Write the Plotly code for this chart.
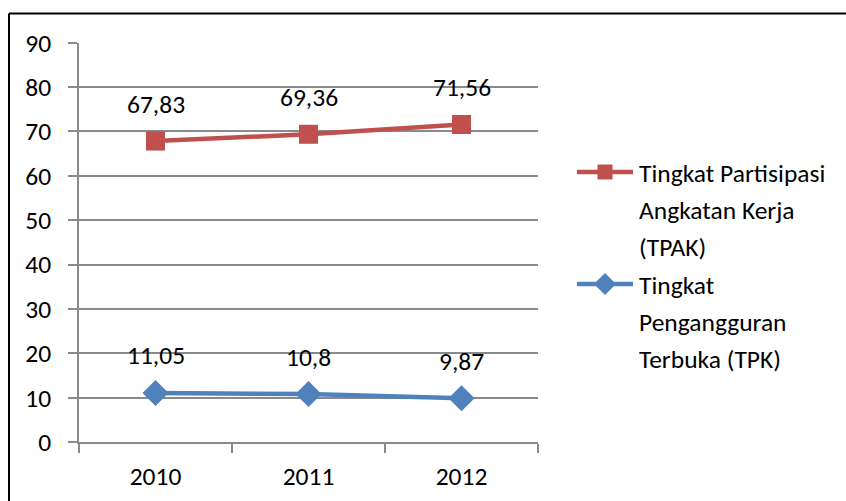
import plotly.graph_objects as go

# Data
years = ["2010", "2011", "2012"]
tpak = [67.83, 69.36, 71.56]   # Tingkat Partisipasi Angkatan Kerja
tpk = [11.05, 10.8, 9.87]      # Tingkat Pengangguran Terbuka
y_ticks = [0, 10, 20, 30, 40, 50, 60, 70, 80, 90]

RED = "#C0504D"
BLUE = "#4F81BD"
GRID = "#8a8a8a"
FONT = "Carlito, Lato, sans-serif"
FS = 25.5
W, H = 846, 501

# plot area in pixels
L, R, T, B = 79, 538, 42.7, 442


def fmt(v):
    return f"{v:g}".replace(".", ",")


fig = go.Figure()

fig.add_trace(go.Scatter(
    x=years, y=tpak, mode="lines+markers", name="TPAK",
    line=dict(color=RED, width=4.5),
    marker=dict(symbol="square", size=19, color=RED),
    showlegend=False, cliponaxis=False,
))
fig.add_trace(go.Scatter(
    x=years, y=tpk, mode="lines+markers", name="TPK",
    line=dict(color=BLUE, width=4.5),
    marker=dict(symbol="diamond", size=20, color=BLUE),
    showlegend=False, cliponaxis=False,
))

annotations = []
for series in (tpak, tpk):
    for i, v in enumerate(series):
        annotations.append(dict(
            x=i, y=v, xref="x", yref="y", text=fmt(v), showarrow=False,
            yshift=37, font=dict(family=FONT, size=FS, color="black"),
        ))

# Legend drawn on a pixel-space overlay axis
legend_items = [
    (RED, "square", 15, 172, ["Tingkat Partisipasi", "Angkatan Kerja", "(TPAK)"], 173),
    (BLUE, "diamond", 17, 284, ["Tingkat", "Pengangguran", "Terbuka (TPK)"], 285),
]
for color, sym, msize, ly, lines, ty in legend_items:
    fig.add_trace(go.Scatter(
        x=[577, 633], y=[ly, ly], xaxis="x2", yaxis="y2", mode="lines",
        line=dict(color=color, width=4.5), showlegend=False, hoverinfo="skip",
    ))
    fig.add_trace(go.Scatter(
        x=[605], y=[ly], xaxis="x2", yaxis="y2", mode="markers",
        marker=dict(symbol=sym, size=msize, color=color),
        showlegend=False, hoverinfo="skip",
    ))
    for i, txt in enumerate(lines):
        annotations.append(dict(
            x=637, y=ty + i * 37, xref="x2", yref="y2", text=txt,
            showarrow=False, xanchor="left", yanchor="middle",
            font=dict(family=FONT, size=FS, color="black"),
        ))

fig.update_layout(
    width=W, height=H,
    margin=dict(l=0, r=0, t=0, b=0, autoexpand=False),
    paper_bgcolor="white", plot_bgcolor="rgba(0,0,0,0)",
    font=dict(family=FONT, size=FS, color="black"),
    xaxis=dict(
        type="category", domain=[L / W, R / W], range=[-0.5, 2.5],
        automargin=False,
        showgrid=False, showline=True, linecolor=GRID, linewidth=1.5,
        ticks="outside", tickson="boundaries", ticklen=9, tickcolor=GRID,
        tickwidth=1.5, ticklabelstandoff=11, zeroline=False,
        tickfont=dict(family=FONT, size=FS, color="black"),
    ),
    yaxis=dict(
        domain=[(H - B) / H, (H - T) / H], range=[0, 90],
        automargin=False,
        tickvals=y_ticks, ticktext=[str(v) for v in y_ticks],
        showgrid=True, gridcolor=GRID, gridwidth=1.5,
        showline=True, linecolor=GRID, linewidth=1.5,
        ticks="outside", ticklen=9, tickcolor=GRID, tickwidth=1.5,
        ticklabelstandoff=12, zeroline=False,
        tickfont=dict(family=FONT, size=FS, color="black"),
    ),
    xaxis2=dict(domain=[0, 1], range=[0, W], visible=False, anchor="y2",
                fixedrange=True, automargin=False),
    yaxis2=dict(domain=[0, 1], range=[H, 0], visible=False, anchor="x2",
                fixedrange=True, automargin=False),
    annotations=annotations,
    shapes=[
        dict(type="line", xref="paper", yref="paper", x0=9 / W, x1=1,
             y0=(H - 13.5) / H, y1=(H - 13.5) / H,
             line=dict(color="black", width=2)),
        dict(type="line", xref="paper", yref="paper", x0=9 / W, x1=9 / W,
             y0=0, y1=(H - 13.5) / H, line=dict(color="black", width=2)),
    ],
)

fig.write_html("out.html")
